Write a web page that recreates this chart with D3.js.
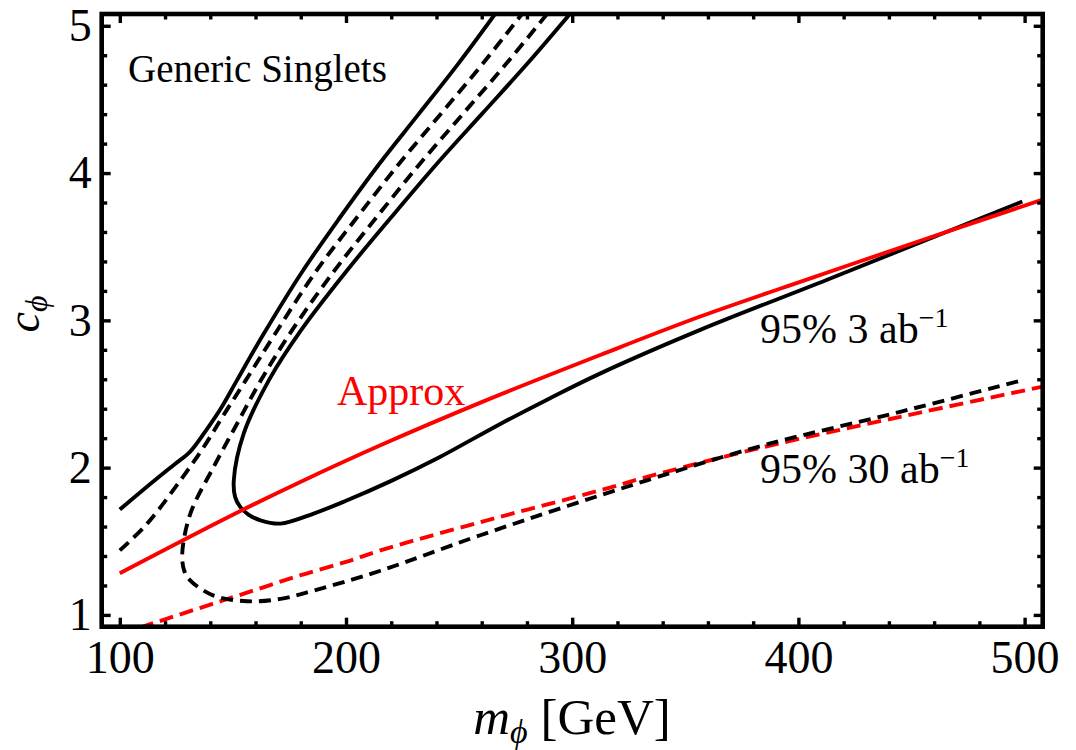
<!DOCTYPE html>
<html>
	<head>
		<meta charset="UTF-8">
		<title>Generic Singlets</title>
		<script type="text/javascript" src="https://cdn.jsdelivr.net/npm/d3@7"></script>
		<style>
			body { margin: 0; background: #fff; }
			text { font-family: "Liberation Serif", "Times New Roman", serif; }
		</style>
	</head>
	<body>
		<script>
			//tick labels
			var xTicks = [100, 200, 300, 400, 500];
			var yTicks = [1, 2, 3, 4, 5];

			//95% 3 ab^-1 contour, left branch (black solid)
			var mass3Left = [100, 112, 124, 131, 138, 145, 151.9, 163.3, 180.2, 197.4, 214.6, 232.1, 249.5, 265.9];
			var c3Left = [1.715, 1.87, 2.02, 2.107, 2.25, 2.41, 2.596, 2.90, 3.32, 3.70, 4.06, 4.40, 4.74, 5.08];

			//95% 3 ab^-1 contour, right branch (black solid)
			var mass3Right = [299, 280, 260, 240, 220, 200, 180, 166, 154.8, 150.4, 151, 153.3, 157, 162.2, 171, 185.7, 200, 220, 240, 268, 290, 312.5, 356.6, 412.7, 499];
			var c3Right = [5.08, 4.74, 4.40, 4.06, 3.70, 3.33, 2.93, 2.596, 2.232, 1.914, 1.80, 1.732, 1.68, 1.642, 1.62, 1.688, 1.775, 1.91, 2.06, 2.295, 2.47, 2.64, 2.935, 3.276, 3.807];

			//95% 30 ab^-1 contour, left branch (black dashed)
			var mass30Left = [100, 112.1, 126.8, 137.1, 146, 155.8, 168.3, 186.6, 204.9, 223.3, 241.8, 260.3, 277.8];
			var c30Left = [1.438, 1.62, 1.914, 2.14, 2.36, 2.596, 2.90, 3.33, 3.70, 4.06, 4.40, 4.74, 5.08];

			//95% 30 ab^-1 contour, right branch (black dashed)
			var mass30Right = [288.9, 270.7, 251.6, 232.5, 213.5, 194.5, 175.6, 162.5, 151.9, 141.5, 131.2, 127.6, 128.5, 131.2, 141.5, 156.3, 171, 185.7, 215.2, 259.4, 333.1, 384.7, 445, 499.6];
			var c30Right = [5.08, 4.74, 4.40, 4.06, 3.70, 3.33, 2.92, 2.596, 2.30, 2.005, 1.688, 1.415, 1.30, 1.233, 1.131, 1.093, 1.109, 1.165, 1.30, 1.541, 1.914, 2.152, 2.379, 2.596];

			//approximation, 3 ab^-1 (red solid)
			var massApprox3 = [100, 150, 179.8, 215.2, 260, 312.4, 356.6, 405.3, 450, 508];
			var cApprox3 = [1.283, 1.68, 1.903, 2.152, 2.445, 2.765, 3.026, 3.285, 3.52, 3.82];

			//approximation, 30 ab^-1 (red dashed)
			var massApprox30 = [100, 120, 140, 160, 180, 200, 215.2, 259.4, 312.4, 333.1, 384.7, 445, 508];
			var cApprox30 = [0.87, 0.97, 1.07, 1.17, 1.27, 1.36, 1.438, 1.63, 1.846, 1.937, 2.14, 2.345, 2.55];

			var w = 1076;
			var h = 750;
			//frame edges in pixels
			var frameL = 101.7, frameR = 1042.7, frameT = 14, frameB = 626.7;

			var svg = d3.select("body")
				.append("svg")
				.attr("width", w)
				.attr("height", h);

			svg.append("rect").attr("width", w).attr("height", h).attr("fill", "#fff");

			//plot range has a 2% padding around 100..500 and 1..5
			var xScale = d3.scaleLinear().domain([92, 508]).range([frameL, frameR]);
			var yScale = d3.scaleLinear().domain([0.92, 5.08]).range([frameB, frameT]);

			svg.append("clipPath")
				.attr("id", "frame")
				.append("rect")
				.attr("x", frameL).attr("y", frameT)
				.attr("width", frameR - frameL).attr("height", frameB - frameT);

			function zip(xs, ys) {
				return xs.map(function(d, i) { return [d, ys[i]]; });
			}

			var line = d3.line()
				.x(function(d) { return xScale(d[0]); })
				.y(function(d) { return yScale(d[1]); })
				.curve(d3.curveCatmullRom.alpha(0.5));

			var curves = [
				{ data: zip(massApprox30, cApprox30), color: "#f00", dash: "14,7" },
				{ data: zip(mass30Left, c30Left), color: "#000", dash: "12,7" },
				{ data: zip(mass30Right, c30Right), color: "#000", dash: "12,7" },
				{ data: zip(mass3Left, c3Left), color: "#000", dash: null },
				{ data: zip(mass3Right, c3Right), color: "#000", dash: null },
				{ data: zip(massApprox3, cApprox3), color: "#f00", dash: null }
			];

			svg.append("g")
				.attr("clip-path", "url(#frame)")
				.selectAll("path")
				.data(curves)
				.enter()
				.append("path")
				.attr("d", function(d) { return line(d.data); })
				.attr("fill", "none")
				.attr("stroke", function(d) { return d.color; })
				.attr("stroke-width", 3.9)
				.attr("stroke-dasharray", function(d) { return d.dash; });

			//minor tick positions
			var xMinor = d3.range(100, 501, 20).filter(function(d) { return d % 100 != 0; });
			var yMinor = d3.range(1, 5.01, 0.2).filter(function(d) { return Math.abs(d - Math.round(d)) > 0.01; });

			function styleAxis(g) {
				g.select(".domain").remove();
				g.selectAll("line").attr("stroke", "#000").attr("stroke-width", 3.4);
				g.selectAll("text")
					.attr("font-size", "46px")
					.attr("font-family", "Liberation Serif, Times New Roman, serif")
					.attr("fill", "#000");
			}

			//bottom axis with labels
			svg.append("g")
				.attr("transform", "translate(0," + frameB + ")")
				.call(d3.axisBottom(xScale).tickValues(xTicks).tickSize(-9).tickPadding(14).tickFormat(d3.format("d")))
				.call(styleAxis);
			svg.append("g")
				.attr("transform", "translate(0," + frameB + ")")
				.call(d3.axisBottom(xScale).tickValues(xMinor).tickSize(-5.5).tickFormat(""))
				.call(styleAxis);

			//top axis, ticks only
			svg.append("g")
				.attr("transform", "translate(0," + frameT + ")")
				.call(d3.axisTop(xScale).tickValues(xTicks).tickSize(-9).tickFormat(""))
				.call(styleAxis);
			svg.append("g")
				.attr("transform", "translate(0," + frameT + ")")
				.call(d3.axisTop(xScale).tickValues(xMinor).tickSize(-5.5).tickFormat(""))
				.call(styleAxis);

			//left axis with labels
			svg.append("g")
				.attr("transform", "translate(" + frameL + ",0)")
				.call(d3.axisLeft(yScale).tickValues(yTicks).tickSize(-9).tickPadding(10).tickFormat(d3.format("d")))
				.call(styleAxis);
			svg.append("g")
				.attr("transform", "translate(" + frameL + ",0)")
				.call(d3.axisLeft(yScale).tickValues(yMinor).tickSize(-5.5).tickFormat(""))
				.call(styleAxis);

			//right axis, ticks only
			svg.append("g")
				.attr("transform", "translate(" + frameR + ",0)")
				.call(d3.axisRight(yScale).tickValues(yTicks).tickSize(-9).tickFormat(""))
				.call(styleAxis);
			svg.append("g")
				.attr("transform", "translate(" + frameR + ",0)")
				.call(d3.axisRight(yScale).tickValues(yMinor).tickSize(-5.5).tickFormat(""))
				.call(styleAxis);

			//frame
			svg.append("rect")
				.attr("x", frameL).attr("y", frameT)
				.attr("width", frameR - frameL).attr("height", frameB - frameT)
				.attr("fill", "none")
				.attr("stroke", "#000")
				.attr("stroke-width", 4.6);

			//annotations
			svg.append("text")
				.attr("x", 128).attr("y", 82)
				.attr("font-size", "39px")
				.text("Generic Singlets");

			svg.append("text")
				.attr("x", 337).attr("y", 405)
				.attr("font-size", "42px")
				.attr("fill", "#f00")
				.text("Approx");

			function lumiLabel(x, y, amount) {
				var t = svg.append("text")
					.attr("x", x).attr("y", y)
					.attr("font-size", "42px");
				t.append("tspan").text("95% " + amount + " ab");
				t.append("tspan").attr("dy", -16).attr("font-size", "28px").text("\u22121");
			}
			lumiLabel(760, 343, "3");
			lumiLabel(760, 483, "30");

			//axis titles
			var xt = svg.append("text")
				.attr("x", 572).attr("y", 734)
				.attr("text-anchor", "middle")
				.attr("font-size", "51px");
			xt.append("tspan").attr("font-style", "italic").text("m");
			xt.append("tspan").attr("font-style", "italic").attr("font-size", "34px").attr("dy", 9).text("\u03d5");
			xt.append("tspan").attr("dy", -9).text(" [GeV]");

			var yt = svg.append("text")
				.attr("transform", "translate(39,314) rotate(-90)")
				.attr("text-anchor", "middle")
				.attr("font-size", "46px");
			yt.append("tspan").attr("font-style", "italic").text("c");
			yt.append("tspan").attr("font-style", "italic").attr("font-size", "32px").attr("dy", 8).text("\u03d5");
		</script>
	</body>
</html>
